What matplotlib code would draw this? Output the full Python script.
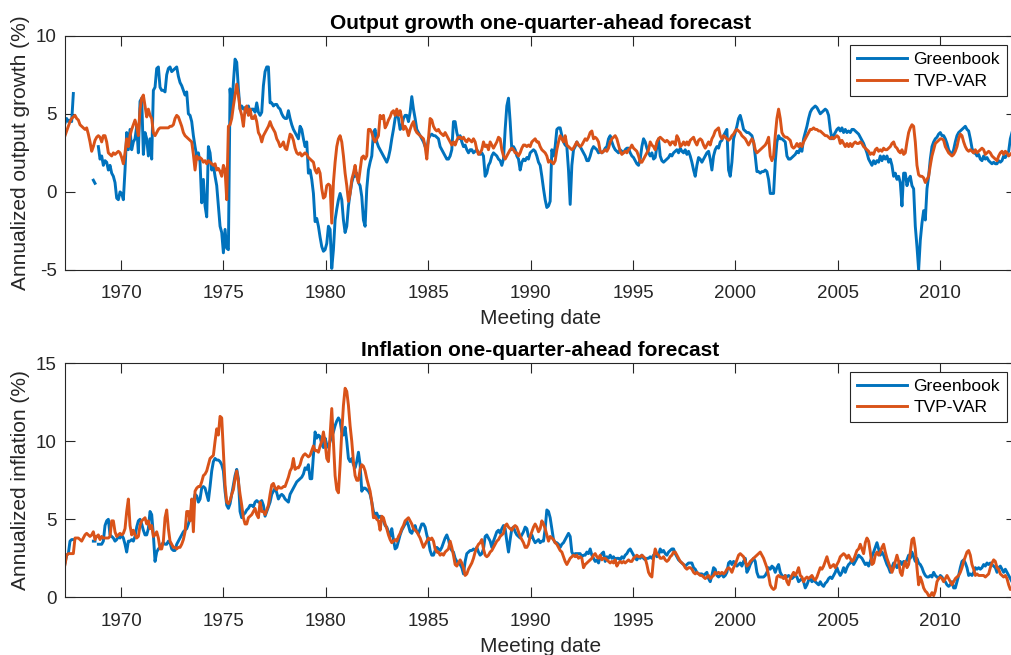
import numpy as np
import matplotlib
matplotlib.use('Agg')
import matplotlib.pyplot as plt

nan = np.nan

# 会议日期：首末两次会议之间大致按月读取
first_meeting = 1967.26
last_meeting = 2013.51

# ===== 产出增长预测（年化 %） =====
greenbook_growth = [
    4.4, 4.7, 4.5, 4.6, 4.5, 6.3,
    nan, nan, nan, nan, nan, nan, nan, nan, nan, nan, nan,
    0.75, 0.55, nan,
    2.9, 2.1, 2.3, 1.7, 2.0, 1.9, 1.4, 1.7, 1.2, 1.0,
    0.6, -0.4, -0.5, 0.0, -0.1, -0.5, 1.4, 3.8, 2.7, 4.0,
    2.7, 3.2, 3.4, 4.2, 2.5, 5.8, 6.0, 2.4, 3.8, 3.4,
    2.3, 3.4, 2.1, 6.5, 6.7, 7.9, 8.0, 6.7, 6.5, 6.5,
    6.4, 7.5, 7.9, 8.0, 7.7, 7.8, 7.9, 8.0, 7.4, 7.0,
    6.8, 6.5, 6.2, 6.4, 5.0, 4.9, 4.5, 3.6, 2.9, 2.3,
    2.5, 1.9, -0.7, 0.8, -0.9, -1.6, 2.9, 2.5, 1.4, 1.7,
    1.0, 0.4, -0.9, -2.2, -2.6, -3.9, -2.4, -3.6, -3.7, 6.6,
    5.1, 7.0, 8.5, 8.3, 6.6, 5.3, 5.5, 5.3, 5.4, 5.1,
    5.5, 5.1, 5.3, 5.3, 5.1, 5.7, 5.1, 4.9, 5.1, 6.8,
    7.7, 8.0, 8.0, 5.7, 5.7, 5.5, 5.6, 5.6, 5.4, 5.3,
    5.0, 4.8, 4.7, 4.7, 5.2, 4.7, 4.3, 4.0, 3.8, 3.6,
    3.4, 4.2, 4.0, 3.4, 2.9, 3.2, 1.2,
    # 1979 - 1990
    1.4, 0.8, -0.1, -1.9, -1.7, -2.2, -2.9, -3.5, -3.8, -3.7,
    -3.3, -2.2, -2.4, -4.9, -3.7, -1.8, -1.1, -0.5, -0.1, -0.5,
    -1.8, -2.6, -2.2, -0.9, -0.1, 0.6, 1.0, 1.0, 1.2, 0.6,
    0.4, -0.3, -1.8, -2.2, 0.2, 1.4, 1.9, 2.3, 3.8, 4.0,
    3.2, 2.9, 2.7, 2.5, 2.3, 2.1, 1.9, 2.2, 2.7, 3.4,
    4.0, 4.7, 5.1, 4.7, 4.0, 4.2, 4.7, 4.9, 4.9, 4.5,
    5.1, 6.1, 5.3, 4.7, 4.0, 3.8, 3.6, 3.4, 3.2, 2.9,
    2.7, 3.4, 3.6, 3.7, 3.6, 3.6, 3.5, 3.4, 2.9, 2.7,
    2.5, 2.3, 2.1, 2.1, 2.3, 2.7, 4.5, 4.5, 3.8, 3.4,
    3.6, 3.2, 2.9, 3.0, 2.7, 2.5, 2.7, 2.7, 2.5, 2.6,
    2.7, 2.5, 2.4, 2.5, 2.3, 1.0, 1.2, 1.7, 1.9, 2.3,
    2.5, 2.4, 2.3, 2.1, 2.0, 1.7, 2.1, 4.0, 5.5, 6.0,
    4.5, 2.7, 2.9, 2.7, 2.3, 2.1, 1.4, 1.9, 2.1, 2.0,
    2.2, 2.1, 2.5, 2.6, 2.7, 2.6, 2.3, 1.9, 1.7, 1.0,
    0.2, -0.5, -1.0, -0.9,
    # 1991 - 2002
    -0.6, 2.7, 2.3, 2.9, 4.0, 4.1, 4.1, 3.6, 3.2, 3.0,
    2.9, 1.4, -0.8, 1.7, 2.7, 2.9, 3.2, 3.0, 2.9, 2.7,
    2.5, 2.3, 2.0, 2.0, 2.3, 2.7, 2.9, 2.8, 2.7, 2.5,
    2.6, 2.5, 2.6, 2.8, 2.9, 3.4, 3.6, 3.2, 2.9, 2.7,
    2.6, 2.5, 2.7, 2.6, 2.5, 2.7, 2.8, 2.8, 2.5, 2.3,
    2.2, 2.0, 1.8, 1.7, 2.1, 2.9, 3.4, 3.2, 2.8, 2.5,
    2.3, 2.5, 2.1, 2.2, 2.9, 3.4, 2.3, 2.0, 1.9, 2.0,
    2.1, 2.2, 2.4, 2.3, 2.5, 2.6, 2.7, 2.5, 2.8, 2.6,
    2.5, 2.7, 2.4, 2.6, 2.3, 1.9, 1.4, 1.0, 1.7, 2.2,
    2.1, 1.9, 2.1, 2.3, 2.5, 2.6, 2.1, 1.4, 2.3, 2.7,
    2.9, 2.8, 3.2, 3.3, 3.6, 3.8, 4.0, 1.4, 1.0, 1.9,
    3.4, 3.8, 4.2, 4.7, 4.9, 4.5, 4.0, 3.9, 3.8, 3.8,
    3.7, 3.6, 3.2, 2.3, 1.3, 1.3, 1.2, 1.3, 1.3, 1.4,
    1.3, 0.8, -0.1, -0.1, -0.1, 1.9, 3.2, 3.6, 3.4, 3.4,
    3.3, 3.2, 2.3, 2.1,
    # 2002 - 2013
    2.1, 2.2, 2.3, 2.4, 2.6, 2.5, 2.8, 2.6, 3.4, 3.8,
    4.2, 4.7, 5.1, 5.3, 5.4, 5.5, 5.4, 5.2, 5.0, 5.1,
    5.2, 5.3, 5.2, 4.9, 4.0, 3.4, 3.6, 3.8, 4.0, 4.1,
    3.9, 4.1, 3.8, 4.0, 3.8, 3.9, 3.8, 4.0, 4.0, 3.9,
    3.8, 3.7, 3.5, 3.3, 3.1, 2.8, 2.5, 2.1, 1.9, 1.7,
    2.0, 1.8, 2.0, 1.9, 2.3, 2.0, 2.3, 2.1, 2.3, 1.9,
    2.1, 1.7, 1.0, 1.2, 0.8, 1.0, 0.6, -0.9, 1.2, 1.2,
    0.4, 0.8, 1.0, 0.4, 0.2, -2.2, -3.5, -5.0, -3.1, -2.0,
    -1.2, -1.8, 0.2, 1.0, 2.1, 2.9, 3.2, 3.4, 3.5, 3.7,
    3.8, 3.6, 3.6, 3.4, 3.1, 2.7, 2.5, 2.4, 2.7, 3.2,
    3.6, 3.8, 3.9, 4.0, 4.1, 4.2, 4.0, 3.9, 3.4, 2.8,
    2.5, 2.5, 2.3, 2.4, 2.1, 2.0, 2.3, 2.1, 2.2, 2.0,
    1.9, 1.8, 1.9, 1.8, 1.8, 2.0, 1.9, 2.0, 2.3, 2.2,
    2.4, 2.6, 3.4, 3.8,
]

tvpvar_growth = [
    3.6, 3.9, 4.2, 4.5, 4.7, 4.8, 4.9, 4.7, 4.6, 4.3,
    4.2, 4.1, 4.0, 4.1, 3.7, 3.2, 2.6, 2.9, 3.3, 3.5,
    3.6, 3.5, 3.2, 3.6, 3.6, 3.2, 2.5, 2.4, 2.3, 2.5,
    2.4, 2.5, 2.6, 2.5, 2.2, 1.8, 2.5, 3.4, 2.9, 3.6,
    4.0, 4.3, 4.6, 4.2, 3.6, 5.3, 6.0, 6.2, 5.5, 4.8,
    5.3, 4.9, 4.7, 3.8, 3.6, 3.8, 4.0, 4.1, 4.1, 4.1,
    4.1, 4.1, 4.1, 4.2, 4.2, 4.3, 4.7, 4.9, 4.8, 4.5,
    4.2, 3.8, 3.6, 3.5, 3.4, 3.3, 3.2, 2.4, 1.4, 2.3,
    2.1, 2.2, 2.1, 1.9, 2.0, 1.8, 2.0, 1.9, 1.8, 1.7,
    1.8, 1.4, 1.5, 1.3, 1.0, 1.7, 1.4, -0.5, 4.2, 4.3,
    4.7, 5.5, 6.2, 6.9, 6.2, 5.3, 4.9, 4.2, 5.3, 5.5,
    4.9, 5.3, 4.7, 4.7, 4.9, 4.5, 3.8, 3.6, 3.2, 3.6,
    3.8, 4.0, 4.2, 4.5, 4.2, 4.0, 3.8, 3.4, 3.2, 2.9,
    3.0, 3.2, 2.8, 2.7, 3.2, 3.7, 3.6, 3.3, 2.8, 2.5,
    2.4, 2.5, 2.3, 2.4, 2.5, 2.4, 2.2,
    # 1979 - 1990
    2.1, 2.0, 1.9, 1.4, 1.2, 1.5, 1.2, 0.2, -0.4, -0.3,
    0.4, 0.5, 0.4, -2.0, 0.6, 1.9, 2.9, 3.4, 3.6, 3.2,
    2.3, 1.2, 0.4, -0.6, -0.1, 0.8, 1.2, 1.7, 1.0, 0.6,
    1.4, 2.2, 2.3, 2.1, 2.3, 4.0, 4.0, 3.8, 3.4, 3.2,
    3.4, 3.6, 4.9, 4.7, 4.9, 4.1, 4.3, 4.6, 4.8, 5.1,
    5.2, 4.9, 5.3, 4.9, 5.2, 4.7, 4.0, 4.2, 4.0, 3.6,
    4.0, 4.3, 4.5, 4.0, 3.8, 3.7, 3.6, 3.5, 3.4, 2.9,
    2.1, 3.4, 4.7, 4.6, 4.2, 4.0, 3.9, 4.0, 3.8, 3.7,
    3.6, 3.8, 3.6, 3.4, 3.2, 3.0, 3.2, 3.0, 3.3, 3.5,
    3.5, 3.4, 3.5, 3.3, 3.2, 3.4, 3.3, 3.2, 3.4, 3.2,
    2.7, 2.4, 2.5, 2.7, 3.2, 2.9, 3.0, 2.7, 3.2, 3.0,
    2.8, 3.0, 3.2, 3.5, 3.4, 2.7, 2.3, 2.1, 2.3, 2.5,
    2.7, 2.8, 2.7, 2.5, 2.5, 2.3, 2.5, 2.8, 3.0, 3.0,
    2.9, 3.0, 2.9, 3.2, 3.3, 3.4, 3.2, 3.2, 2.9, 2.7,
    2.6, 2.5, 2.3, 1.9,
    # 1991 - 2002
    2.0, 1.9, 1.8, 2.0, 2.7, 3.2, 3.6, 3.4, 3.2, 3.6,
    3.0, 2.9, 2.8, 2.7, 2.8, 3.0, 3.2, 3.0, 2.9, 3.0,
    3.2, 3.4, 3.3, 3.5, 3.8, 3.9, 3.4, 3.5, 3.4, 3.2,
    2.6, 2.5, 2.6, 2.7, 2.6, 2.8, 3.2, 3.4, 3.5, 3.6,
    3.4, 3.0, 2.6, 2.4, 2.5, 2.6, 2.5, 2.7, 2.8, 3.0,
    2.8, 2.7, 2.6, 2.3, 1.9, 1.9, 2.1, 2.3, 2.5, 2.7,
    3.2, 3.0, 2.9, 2.7, 3.2, 3.4, 3.5, 3.4, 3.3, 3.2,
    3.3, 3.2, 3.0, 3.2, 3.2, 3.0, 3.6, 3.4, 2.9, 3.0,
    3.2, 3.0, 3.2, 3.0, 3.3, 3.4, 3.5, 3.2, 3.0, 3.3,
    3.4, 3.3, 3.0, 2.8, 3.0, 3.2, 3.0, 3.4, 3.6, 3.9,
    4.0, 4.1, 3.6, 3.4, 3.6, 3.5, 3.4, 3.3, 3.4, 3.6,
    3.7, 3.9, 4.0, 3.9, 3.8, 3.6, 3.5, 3.4, 3.2, 3.0,
    3.2, 3.4, 3.2, 2.7, 2.5, 2.6, 2.7, 2.8, 2.9, 3.0,
    3.2, 3.5, 2.3, 2.0, 2.3, 3.6, 4.7, 5.3, 4.7, 3.8,
    3.6, 3.5, 3.5, 3.4,
    # 2002 - 2013
    3.3, 2.9, 2.8, 2.9, 3.1, 2.9, 3.1, 2.9, 3.2, 3.4,
    3.6, 3.8, 4.0, 4.0, 4.1, 4.0, 4.0, 3.9, 3.9, 3.8,
    3.7, 3.6, 3.6, 3.5, 3.4, 3.5, 3.4, 3.5, 3.6, 3.5,
    3.1, 3.3, 3.1, 2.9, 3.1, 2.9, 3.1, 2.9, 3.1, 3.2,
    3.1, 3.1, 3.2, 3.1, 2.9, 2.8, 2.7, 2.6, 2.4, 2.5,
    2.4, 2.7, 2.8, 2.6, 2.7, 2.6, 2.8, 2.7, 2.7, 2.8,
    2.9, 3.1, 3.2, 2.9, 2.8, 2.6, 2.5, 2.7, 2.4, 2.5,
    3.2, 3.8, 4.1, 4.3, 4.2, 3.2, 1.7, 1.1, 1.0, 1.0,
    0.9, 0.6, 0.8, 1.0, 1.7, 2.3, 2.7, 3.1, 3.2, 3.3,
    3.4, 3.4, 3.3, 2.9, 2.7, 2.5, 2.4, 2.3, 2.4, 2.6,
    2.9, 3.4, 3.7, 3.6, 3.2, 2.9, 2.7, 2.6, 2.7, 2.6,
    2.5, 2.7, 2.5, 2.6, 2.7, 2.8, 2.7, 2.4, 2.5, 2.6,
    2.5, 2.3, 2.2, 2.1, 2.0, 2.3, 2.5, 2.6, 2.4, 2.6,
    2.5, 2.3, 2.4, 2.5,
]

# ===== 通胀预测（年化 %） =====
greenbook_inflation = [
    2.2, 2.7, 2.8, 3.6, 3.7, 3.7,
    nan, nan, nan, nan, nan, nan, nan, nan, nan, nan, nan,
    3.6, 3.6, nan,
    3.4, 3.4, 3.4, 3.6, 4.6, 4.9, 5.0, 4.0, 3.9, 3.8,
    3.6, 3.7, 3.9, 3.8, 4.0, 3.8, 3.4, 2.9, 3.6, 3.6,
    3.7, 3.6, 3.9, 4.5, 4.9, 5.0, 4.7, 4.3, 4.0, 4.0,
    4.4, 5.5, 5.3, 4.0, 2.3, 2.9, 3.1, 3.2, 3.4, 3.5,
    3.4, 3.4, 3.6, 3.5, 3.1, 3.0, 3.0, 3.4, 3.6, 3.8,
    4.0, 4.2, 4.3, 4.4, 4.7, 5.1, 5.5, 6.1, 6.6, 6.5,
    6.1, 6.3, 7.0, 7.1, 7.0, 6.6, 6.2, 7.1, 8.1, 8.7,
    8.9, 8.8, 8.8, 8.7, 8.5, 8.1, 6.8, 5.9, 5.7, 6.0,
    6.6, 7.2, 7.8, 8.2, 7.6, 5.5, 5.1, 5.3, 5.4, 5.6,
    5.7, 5.9, 5.9, 5.8, 6.1, 6.2, 6.1, 6.1, 6.2, 5.9,
    5.2, 5.5, 5.8, 6.1, 6.6, 6.8, 7.0, 6.7, 6.3, 6.5,
    6.6, 6.5, 6.3, 6.2, 6.1, 6.6, 6.8, 7.0, 7.2, 7.4,
    7.5, 7.6, 7.7, 7.9, 8.3, 8.2, 8.5,
    # 1979 - 1990
    7.6, 7.6, 9.1, 10.6, 10.2, 10.4, 10.3, 9.8, 9.6, 10.2,
    9.8, 9.6, 10.0, 10.3, 10.6, 11.0, 11.3, 11.5, 11.3, 10.6,
    10.4, 10.9, 10.0, 8.9, 8.7, 8.9, 8.5, 8.3, 8.7, 9.3,
    8.5, 6.8, 7.0, 7.0, 6.9, 6.8, 6.6, 6.1, 5.5, 5.3,
    5.4, 5.1, 5.2, 5.1, 4.9, 4.6, 4.5, 4.2, 3.9, 4.4,
    3.7, 3.1, 3.2, 3.6, 4.0, 4.3, 4.5, 4.7, 4.9, 4.6,
    4.2, 4.1, 4.4, 4.6, 4.2, 4.1, 4.4, 4.7, 4.7, 4.5,
    4.0, 3.6, 3.0, 2.7, 2.7, 3.0, 3.2, 3.1, 3.0, 3.2,
    3.5, 3.8, 4.0, 3.7, 3.2, 3.0, 2.9, 2.5, 2.3, 2.2,
    2.1, 1.9, 1.5, 2.3, 2.8, 2.9, 3.0, 3.0, 3.1, 3.0,
    3.2, 2.9, 2.7, 2.8, 3.1, 3.9, 4.0, 3.8, 3.6, 3.2,
    3.6, 3.9, 4.2, 4.3, 4.1, 4.4, 4.6, 4.4, 3.6, 2.9,
    3.7, 4.4, 4.5, 4.2, 4.0, 3.9, 3.8, 4.0, 4.2, 4.5,
    4.4, 3.9, 3.8, 4.0, 3.7, 3.5, 3.6, 3.7, 3.5, 3.6,
    3.6, 4.4, 5.6, 5.5,
    # 1991 - 2002
    5.1, 4.4, 3.7, 3.5, 3.5, 3.4, 3.2, 3.4, 3.5, 3.7,
    3.9, 4.1, 3.9, 2.9, 2.7, 2.8, 2.8, 2.8, 2.8, 2.6,
    2.7, 2.7, 2.9, 2.8, 3.1, 2.7, 2.5, 2.3, 2.4, 2.2,
    2.6, 2.8, 2.9, 2.3, 2.6, 2.5, 2.7, 2.5, 2.6, 2.4,
    2.5, 2.5, 2.4, 2.6, 2.5, 2.7, 2.8, 3.0, 3.1, 2.9,
    2.7, 2.5, 2.4, 2.6, 2.5, 2.7, 2.5, 2.4, 2.5, 2.5,
    2.6, 2.5, 2.7, 2.8, 2.6, 2.7, 3.1, 2.9, 3.0, 2.8,
    2.7, 2.9, 3.0, 3.1, 3.1, 2.8, 2.6, 2.4, 2.3, 2.2,
    2.1, 2.0, 2.1, 2.2, 2.2, 2.2, 1.9, 1.8, 1.6, 1.5,
    1.5, 1.5, 1.4, 1.5, 1.6, 1.2, 1.0, 1.4, 1.9, 1.8,
    1.4, 1.3, 1.4, 1.5, 1.3, 1.4, 1.6, 2.2, 2.3, 2.1,
    2.3, 2.2, 2.0, 2.1, 2.2, 2.0, 2.3, 2.5, 1.6, 1.8,
    2.1, 2.3, 2.5, 2.3, 1.6, 1.3, 1.3, 1.3, 1.3, 1.4,
    1.6, 1.9, 1.8, 2.0, 1.9, 1.6, 1.9, 2.1, 1.6, 1.4,
    1.3, 1.4, 1.3, 1.4,
    # 2002 - 2013
    1.3, 1.2, 1.3, 1.4, 1.3, 1.0, 1.1, 1.2, 1.0, 0.6,
    0.8, 1.1, 1.2, 1.0, 1.1, 1.0, 0.9, 0.8, 1.0, 0.8,
    0.7, 0.9, 1.0, 1.2, 1.3, 1.2, 1.4, 1.6, 1.9, 1.6,
    1.4, 1.6, 1.9, 1.6, 1.9, 2.1, 2.2, 2.4, 2.1, 2.3,
    2.5, 2.7, 2.6, 2.5, 2.3, 2.1, 2.2, 2.0, 2.3, 2.6,
    2.9, 3.2, 3.5, 3.1, 2.7, 2.9, 2.7, 2.4, 2.1, 1.9,
    1.6, 1.9, 2.2, 2.1, 1.9, 2.1, 2.3, 2.1, 2.3, 2.2,
    2.4, 2.7, 2.5, 2.9, 2.6, 2.3, 2.5, 2.2, 2.1, 1.9,
    1.6, 1.4, 1.3, 1.3, 1.4, 1.3, 1.6, 1.4, 1.3, 1.2,
    1.4, 1.3, 1.1, 1.0, 0.8, 0.7, 0.8, 1.0, 0.6, 0.6,
    1.0, 1.4, 1.9, 2.3, 2.4, 2.2, 1.9, 1.4, 1.5, 1.4,
    1.6, 1.9, 1.8, 1.9, 1.8, 1.9, 2.1, 2.0, 2.2, 2.1,
    2.2, 2.1, 2.0, 1.9, 1.6, 1.9, 2.0, 1.8, 1.6, 1.8,
    1.6, 1.4, 1.2, 1.0,
]

tvpvar_inflation = [
    2.1, 2.7, 2.8, 2.8, 2.8, 2.8, 3.8, 3.8, 3.8, 3.7,
    3.6, 3.8, 4.0, 4.1, 4.0, 3.9, 4.0, 4.2, 3.7, 3.9,
    4.0, 3.7, 3.9, 3.8, 3.8, 3.8, 3.8, 3.9, 4.9, 4.9,
    4.2, 3.9, 4.0, 4.1, 4.0, 4.1, 4.4, 5.5, 6.3, 4.6,
    4.0, 4.3, 4.0, 3.8, 3.9, 4.6, 4.9, 5.0, 5.1, 4.7,
    4.9, 4.4, 4.6, 3.9, 4.0, 4.2, 3.8, 3.1, 3.1, 3.6,
    5.1, 5.6, 4.4, 3.6, 3.4, 3.2, 3.2, 3.1, 3.2, 3.2,
    3.4, 3.7, 4.2, 5.5, 5.5, 4.9, 6.3, 4.2, 6.8, 7.0,
    7.1, 7.1, 7.4, 7.8, 7.9, 8.1, 8.5, 8.9, 9.0, 9.1,
    10.0, 10.8, 10.4, 11.6, 11.5, 9.3, 7.2, 6.1, 6.0, 6.2,
    6.6, 6.9, 7.6, 8.1, 7.4, 6.6, 5.9, 5.1, 4.7, 4.7,
    5.1, 5.2, 5.3, 5.5, 5.7, 5.3, 5.1, 6.1, 5.5, 5.5,
    5.3, 5.6, 5.9, 6.6, 7.2, 7.3, 7.0, 6.9, 7.1, 7.0,
    7.0, 7.1, 7.1, 7.4, 7.7, 8.1, 8.3, 8.9, 8.2, 8.3,
    8.3, 8.5, 8.9, 9.1, 9.2, 9.1, 9.0,
    # 1979 - 1990
    9.1, 9.4, 9.7, 9.4, 9.4, 9.3, 9.7, 10.0, 10.6, 9.9,
    8.9, 8.7, 10.4, 12.1, 10.0, 7.8, 6.9, 6.7, 8.5, 10.6,
    12.3, 13.4, 13.2, 12.3, 11.0, 10.0, 8.7, 7.8, 7.5, 7.5,
    8.2, 8.5, 8.4, 8.1, 7.6, 7.2, 6.8, 6.1, 5.1, 5.2,
    5.0, 4.9, 4.3, 5.2, 5.1, 4.7, 4.4, 4.0, 3.7, 3.5,
    3.6, 3.7, 3.6, 3.9, 4.1, 4.4, 4.6, 4.9, 5.0, 5.1,
    4.9, 4.7, 4.4, 4.3, 4.2, 4.0, 3.8, 3.5, 3.2, 3.4,
    3.6, 3.8, 3.7, 3.8, 3.6, 3.1, 2.9, 2.9, 2.7, 2.8,
    2.7, 2.9, 3.0, 3.1, 3.6, 3.2, 2.7, 2.1, 2.0, 2.2,
    2.4, 2.2, 1.9, 1.4, 1.5, 1.8, 2.0, 2.2, 2.5, 2.9,
    3.2, 3.4, 3.5, 3.7, 3.1, 2.7, 2.6, 2.7, 2.9, 3.0,
    3.2, 3.4, 3.6, 3.7, 3.9, 4.0, 4.1, 4.6, 4.7, 4.5,
    4.4, 4.3, 4.5, 4.6, 4.5, 4.2, 3.9, 3.7, 3.5, 3.2,
    3.2, 3.4, 3.9, 4.2, 4.5, 4.7, 4.5, 4.2, 4.4, 4.9,
    4.7, 4.4, 4.0, 3.6,
    # 1991 - 2002
    3.9, 3.8, 3.7, 3.5, 3.4, 3.2, 3.0, 2.9, 2.6, 2.3,
    2.1, 2.3, 2.5, 2.6, 2.7, 2.6, 2.7, 2.5, 2.6, 2.5,
    1.9, 2.1, 2.2, 2.3, 2.4, 2.5, 2.7, 2.8, 2.6, 2.5,
    2.7, 2.4, 2.5, 2.5, 2.4, 2.3, 2.2, 2.3, 2.2, 2.4,
    2.0, 2.2, 2.3, 2.2, 2.3, 2.2, 2.3, 2.4, 2.3, 2.3,
    2.5, 2.6, 2.7, 2.6, 2.6, 2.7, 2.6, 2.5, 2.1, 1.6,
    1.4, 1.3, 2.5, 3.1, 2.8, 2.7, 2.5, 2.5, 2.6, 2.4,
    2.3, 2.4, 2.6, 2.7, 2.9, 2.9, 2.7, 2.5, 2.3, 2.2,
    2.1, 1.9, 1.8, 1.9, 1.9, 1.8, 1.6, 1.5, 1.6, 1.5,
    1.4, 1.4, 1.3, 1.2, 1.3, 1.4, 1.2, 1.3, 1.4, 1.6,
    1.5, 1.6, 1.5, 1.6, 1.5, 1.6, 1.8, 1.9, 1.8, 1.6,
    1.9, 2.1, 2.4, 2.7, 2.8, 2.7, 2.6, 2.3, 2.0, 2.1,
    2.3, 2.4, 2.5, 2.6, 2.7, 2.8, 2.9, 2.7, 2.5, 2.2,
    1.9, 1.4, 0.8, 0.6, 0.5, 0.6, 1.3, 1.4, 1.3, 1.3,
    1.2, 1.4, 1.0, 0.8,
    # 2002 - 2013
    1.2, 1.4, 1.6, 1.4, 1.6, 1.9, 1.4, 1.3, 1.0, 1.2,
    1.3, 1.2, 1.3, 1.4, 1.2, 1.1, 1.3, 1.6, 1.9, 1.8,
    2.0, 2.3, 2.6, 2.2, 1.9, 2.0, 2.1, 1.9, 2.1, 2.3,
    2.6, 2.7, 2.8, 2.7, 2.5, 2.7, 2.5, 2.3, 2.4, 2.7,
    3.0, 3.1, 3.4, 3.1, 2.8, 3.5, 3.8, 3.6, 2.9, 2.1,
    2.2, 2.7, 2.9, 2.7, 2.9, 3.2, 3.4, 2.9, 2.5, 2.2,
    1.9, 1.6, 1.9, 2.3, 2.7, 2.3, 1.6, 1.4, 2.0, 2.3,
    1.9, 2.1, 2.9, 3.7, 3.8, 3.1, 1.9, 0.8, 1.3, 1.0,
    0.6, 0.4, 0.3, 0.1, 0.1, 0.3, 0.1, 0.4, 1.0, 1.2,
    1.3, 1.2, 1.0, 1.2, 1.4, 1.2, 1.0, 0.8, 1.0, 1.2,
    1.3, 1.4, 1.6, 1.9, 2.3, 2.6, 2.9, 3.0, 2.7, 2.1,
    1.8, 1.4, 1.5, 1.4, 1.4, 1.4, 1.4, 1.3, 1.4, 1.5,
    1.9, 2.2, 2.4, 2.3, 1.9, 1.8, 1.5, 1.4, 1.3, 1.4,
    1.2, 0.8, 0.5, 0.6,
]

year_ticks = [1970, 1975, 1980, 1985, 1990, 1995, 2000, 2005, 2010]
series_names = ['Greenbook', 'TVP-VAR']

n = len(greenbook_growth)
for s in (tvpvar_growth, greenbook_inflation, tvpvar_inflation):
    assert len(s) == n, len(s)
meeting_dates = np.linspace(first_meeting, last_meeting, n)

# MATLAB 默认配色
blue = '#0072BD'
orange = '#D95319'
axis_col = '#262626'

plt.rcParams['font.family'] = ['Liberation Sans', 'DejaVu Sans']
plt.rcParams['axes.unicode_minus'] = False

fig = plt.figure(figsize=(10.12, 6.55), dpi=100)
W, H = 1012.0, 655.0
AX_W = 951.0                      # 右边框落在图片外（原图被裁掉）
px_per_year = 947.0 / (last_meeting - first_meeting)
x_right = first_meeting + AX_W / px_per_year


def make_axes(top_px, bottom_px):
    return fig.add_axes([65 / W, 1 - bottom_px / H, AX_W / W, (bottom_px - top_px) / H])


panels = [
    (make_axes(35.7, 270.0), greenbook_growth, tvpvar_growth,
     'Output growth one-quarter-ahead forecast', 'Annualized output growth (%)',
     (-5, 10), [-5, 0, 5, 10], 45.0),
    (make_axes(363.3, 597.3), greenbook_inflation, tvpvar_inflation,
     'Inflation one-quarter-ahead forecast', 'Annualized inflation (%)',
     (0, 15), [0, 5, 10, 15], 371.7),
]

for ax, gb, tvp, title, ylab, ylim, yticks, leg_top in panels:
    ax.plot(meeting_dates, gb, color=blue, lw=2.1, solid_joinstyle='round', label=series_names[0])
    ax.plot(meeting_dates, tvp, color=orange, lw=2.1, solid_joinstyle='round', label=series_names[1])
    ax.set_xlim(first_meeting, x_right)
    ax.set_ylim(*ylim)
    ax.set_xticks(year_ticks)
    ax.set_yticks(yticks)
    ax.tick_params(direction='in', length=7, width=0.8, color=axis_col,
                   labelsize=13.5, labelcolor=axis_col, top=True, right=True)
    ax.tick_params(axis='x', pad=11)
    ax.tick_params(axis='y', pad=6)
    for sp in ax.spines.values():
        sp.set_color(axis_col)
        sp.set_linewidth(0.8)
    ax.set_title(title, fontsize=15, fontweight='bold', color='black', pad=5)
    ax.set_xlabel('Meeting date', fontsize=15, color=axis_col, labelpad=5)
    ax.set_ylabel(ylab, fontsize=15, color=axis_col, labelpad=4)
    leg = ax.legend(loc='upper right', bbox_to_anchor=(1007 / W, 1 - leg_top / H),
                    bbox_transform=fig.transFigure, borderaxespad=0, fontsize=12.6,
                    fancybox=False, framealpha=1, edgecolor=axis_col,
                    handlelength=2.9, handletextpad=0.35, labelspacing=0.35,
                    borderpad=0.4)
    leg.get_frame().set_linewidth(0.8)

fig.savefig('out.png', dpi=100)
